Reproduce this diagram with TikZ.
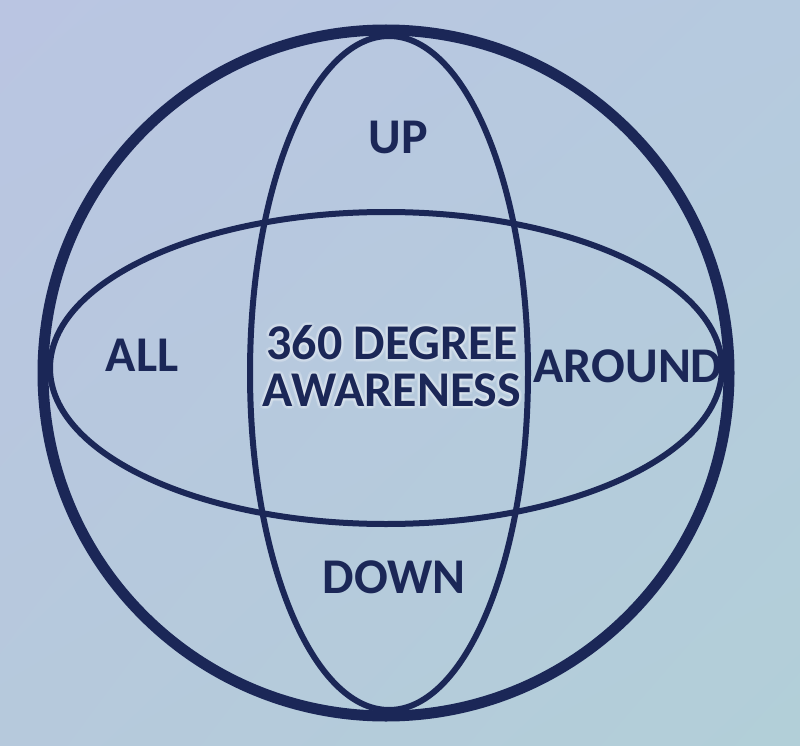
\documentclass[tikz,border=0pt]{standalone}
\usepackage{fontspec}
\setmainfont{Carlito}
\usetikzlibrary{shadings}
\begin{document}
\begin{tikzpicture}[x=1pt,y=-1pt,
  navy/.style={draw=ink},
  lbl/.style={text=ink,font=\fontsize{50}{47}\selectfont\bfseries,inner sep=0pt,align=center},
  glow/.style={text=white,text opacity=0.16,font=\fontsize{50}{47}\selectfont\bfseries,inner sep=0pt,align=center}]
\definecolor{ink}{HTML}{1B2757}
\definecolor{bgA}{HTML}{BAC5E2}
\definecolor{bgB}{HTML}{B6CADF}
\definecolor{bgC}{HTML}{B2CFD8}
\definecolor{bgD}{HTML}{B6C9DC}
\useasboundingbox (0,0) rectangle (800,746);
\shade[upper left=bgA,upper right=bgB,lower right=bgC,lower left=bgD] (0,0) rectangle (800,746);
\draw[navy,line width=11pt] (386,373) circle (343);
\draw[navy,line width=6pt] (389,373) ellipse (139 and 337);
\draw[navy,line width=6pt] (386,368) ellipse (336 and 156);
\node[lbl] (up) at (398,137) {UP};
\node[lbl] (all) at (142,355) {ALL};
\node[lbl] (around) at (628,366) {AROUND};
\node[lbl] (down) at (394,577) {DOWN};
\foreach \dx/\dy in {-3/0,3/0,0/-3,0/3,-2/-2,2/2,-2/2,2/-2}
  \node[glow] at (392+\dx,366+\dy) {360 DEGREE\\AWARENESS};
\node[lbl] (center) at (392,366) {360 DEGREE\\AWARENESS};
\end{tikzpicture}
\end{document}
